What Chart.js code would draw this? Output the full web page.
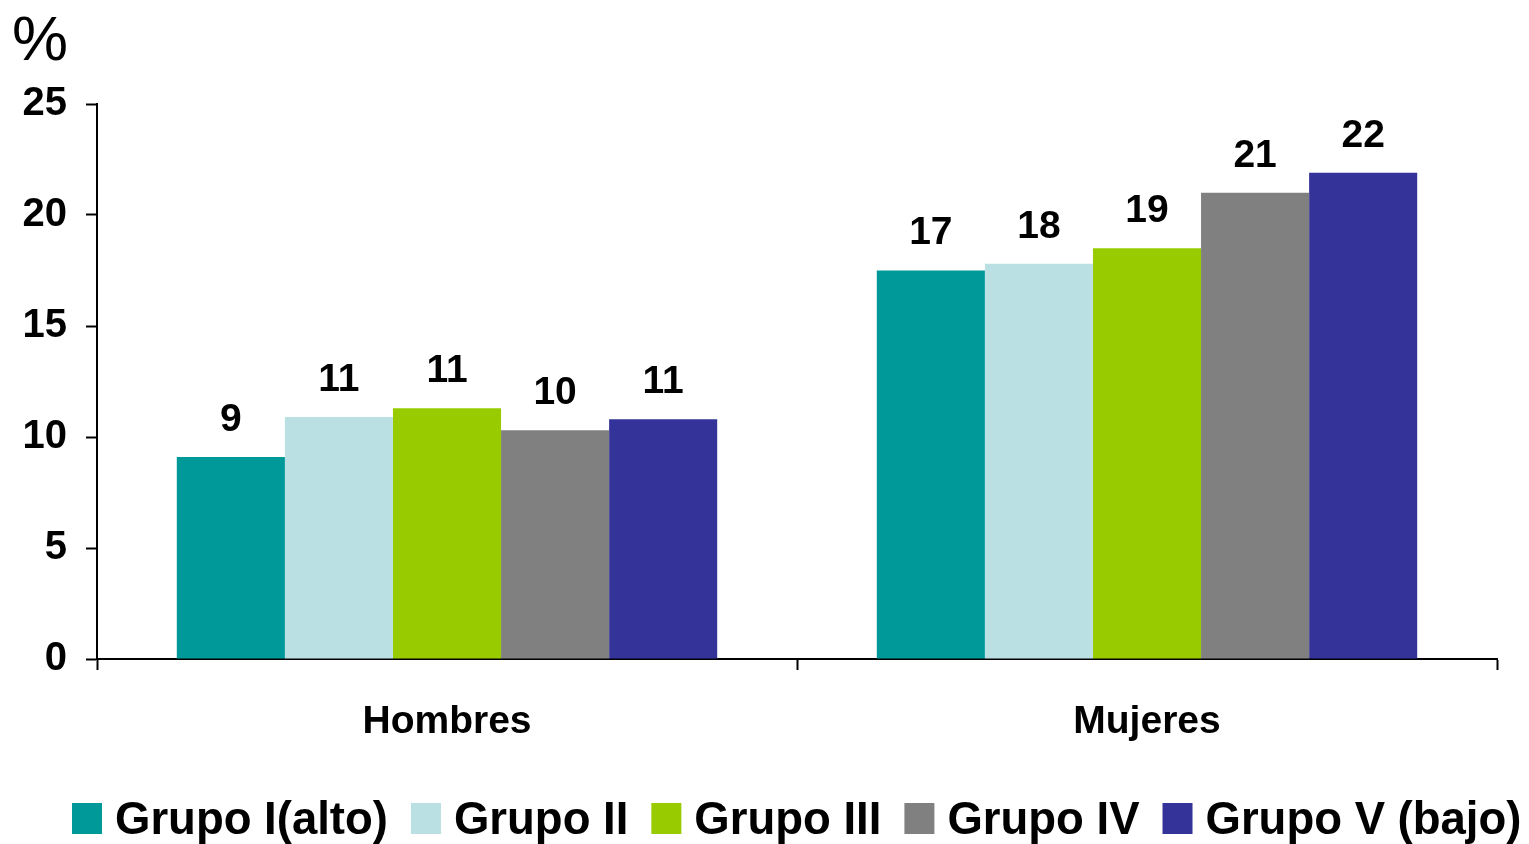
<!DOCTYPE html>
<html>
<head>
<meta charset="utf-8">
<script src="https://cdn.jsdelivr.net/npm/chart.js@4.4.0/dist/chart.umd.min.js"></script>
<style>
  html, body { margin: 0; padding: 0; background: #fff; }
  #wrap { width: 1529px; height: 844px; }
</style>
</head>
<body>
<div id="wrap"><canvas id="chart"></canvas></div>
<script>
// Data
var categories = ['Hombres', 'Mujeres'];
var seriesNames = ['Grupo I(alto)', 'Grupo II', 'Grupo III', 'Grupo IV', 'Grupo V (bajo)'];
var grupo1 = [9.1, 17.5];
var grupo2 = [10.9, 17.8];
var grupo3 = [11.3, 18.5];
var grupo4 = [10.3, 21.0];
var grupo5 = [10.8, 21.9];
// labels printed above the bars
var label1 = ['9', '17'];
var label2 = ['11', '18'];
var label3 = ['11', '19'];
var label4 = ['10', '21'];
var label5 = ['11', '22'];
var yTicks = [0, 5, 10, 15, 20, 25];

var colors = ['#009999', '#BAE0E3', '#99CC00', '#808080', '#333399'];
var allValues = [grupo1, grupo2, grupo3, grupo4, grupo5];
var allLabels = [label1, label2, label3, label4, label5];

var FONT = "'Liberation Sans', Arial, sans-serif";

var datasets = [];
for (var i = 0; i < seriesNames.length; i++) {
    datasets.push({
        label: seriesNames[i],
        data: allValues[i],
        backgroundColor: colors[i],
        borderWidth: 0,
        barPercentage: 1,
        categoryPercentage: 0.772
    });
}

// draws the value labels, the "%" unit and the legend row
var extrasPlugin = {
    id: 'extras',
    afterDatasetsDraw: function(chart) {
        var ctx = chart.ctx;
        ctx.save();
        ctx.fillStyle = '#000';
        ctx.font = 'bold 39px ' + FONT;
        ctx.textAlign = 'center';
        ctx.textBaseline = 'middle';
        chart.data.datasets.forEach(function(ds, i) {
            var meta = chart.getDatasetMeta(i);
            meta.data.forEach(function(bar, j) {
                ctx.fillText(allLabels[i][j], bar.x, bar.y - 37);
            });
        });
        ctx.restore();
    },
    afterDraw: function(chart) {
        var ctx = chart.ctx;
        ctx.save();
        // unit label
        ctx.fillStyle = '#000';
        ctx.font = '63px ' + FONT;
        ctx.textAlign = 'left';
        ctx.textBaseline = 'alphabetic';
        ctx.fillText('%', 12, 60);

        // legend, one row along the bottom
        ctx.font = 'bold 45.5px ' + FONT;
        var x = 72;
        chart.data.datasets.forEach(function(ds, i) {
            ctx.fillStyle = ds.backgroundColor;
            ctx.fillRect(x, 803, 30, 31);
            ctx.fillStyle = '#000';
            ctx.fillText(ds.label, x + 43, 834);
            x += 43 + ctx.measureText(ds.label).width + 23;
        });
        ctx.restore();
    }
};

new Chart(document.getElementById('chart'), {
    type: 'bar',
    data: { labels: categories, datasets: datasets },
    plugins: [extrasPlugin],
    options: {
        responsive: true,
        maintainAspectRatio: false,
        animation: false,
        layout: { padding: { top: 104, right: 32, left: 0, bottom: 65 } },
        plugins: {
            tooltip: { enabled: false },
            legend: { display: false }
        },
        scales: {
            x: {
                afterFit: function(scale) { scale.height = 120; },
                grid: {
                    display: true,
                    offset: true,
                    drawOnChartArea: false,
                    tickLength: 11,
                    tickColor: '#000',
                    tickWidth: 2
                },
                border: { color: '#000', width: 2 },
                ticks: {
                    color: '#000',
                    padding: 29,
                    font: { family: FONT, size: 39, weight: 'bold' }
                }
            },
            y: {
                min: 0,
                max: 25,
                afterFit: function(scale) { scale.width = 97; },
                afterBuildTicks: function(scale) {
                    scale.ticks = yTicks.map(function(v) { return { value: v }; });
                },
                grid: {
                    display: true,
                    drawOnChartArea: false,
                    tickLength: 11,
                    tickColor: '#000',
                    tickWidth: 2
                },
                border: { color: '#000', width: 2 },
                ticks: {
                    color: '#000',
                    padding: 19,
                    font: { family: FONT, size: 40, weight: 'bold' }
                }
            }
        }
    }
});
</script>
</body>
</html>
